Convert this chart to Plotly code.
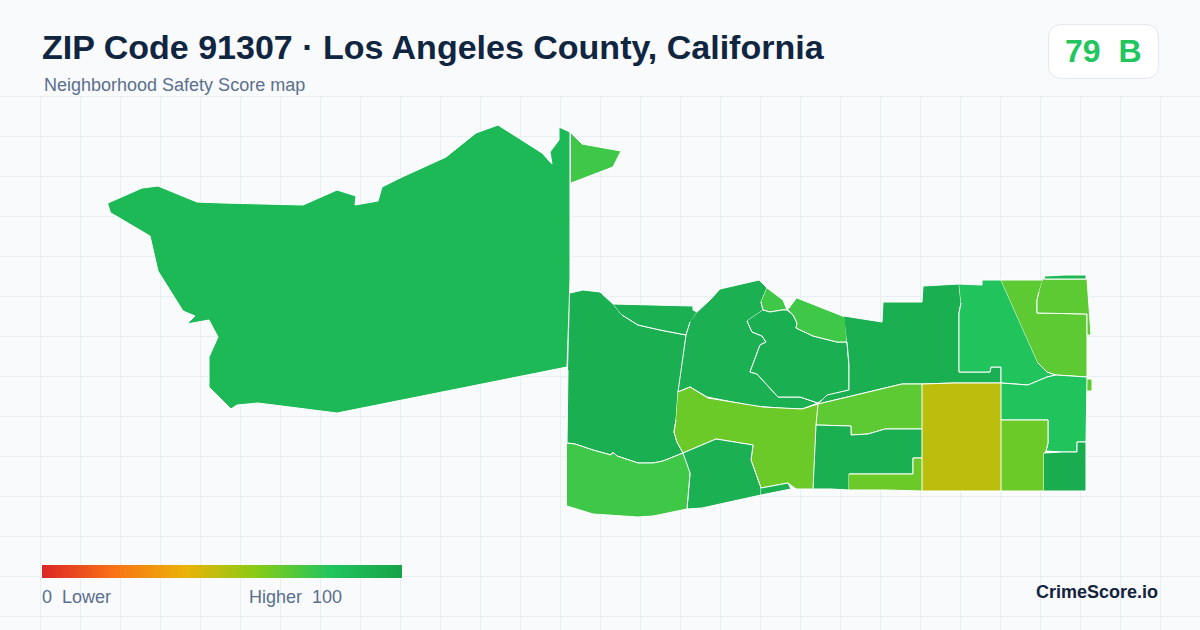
#!/usr/bin/env python3
import numpy as np
import plotly.graph_objects as go
from plotly.colors import sample_colorscale

# score colour ramp, same for the map and the legend bar
score_scale = [
    [0.0, "#dc2626"],
    [0.2, "#f97316"],
    [0.4, "#eab308"],
    [0.6, "#84cc16"],
    [0.8, "#22c55e"],
    [1.0, "#16a34a"],
]

# boundaries
north_west = [(108, 203), (142, 188), (158, 186), (197, 202), (223, 203), (275, 204), (303, 205), (337, 190), (356, 196), (355, 205), (378, 201), (382, 187), (400, 178), (446, 157), (476, 133), (498, 125), (542, 153), (552, 164), (550, 152), (559, 140), (559, 127), (570, 132), (570, 280), (567, 367), (337, 413), (258, 403), (237, 405), (231, 409), (209, 387), (209, 357), (218, 337), (209, 320), (187, 324), (195, 316), (183, 311), (158, 271), (150, 236), (111, 213)]
north_tip = [(571, 133), (582, 144), (621, 151), (613, 167), (571, 183)]
west_block = [(570, 293), (583, 290), (600, 292), (613, 304), (622, 315), (638, 325), (660, 330), (686, 335), (682, 373), (678, 392), (676, 420), (674, 432), (677, 442), (683, 453), (663, 461), (653, 463), (638, 463), (617, 456), (614, 453), (612, 453), (611, 455), (593, 450), (575, 444), (567, 443), (568, 370)]
west_top = [(613, 304), (653, 305), (693, 306), (693, 310), (697, 312), (690, 323), (686, 335), (660, 330), (638, 325), (622, 315)]
hill_west = [(697, 312), (710, 300), (720, 289), (748, 283), (759, 280), (767, 288), (761, 302), (763, 310), (747, 321), (752, 332), (762, 336), (766, 342), (760, 345), (750, 372), (757, 374), (778, 397), (800, 397), (818, 403), (802, 409), (792, 409), (753, 406), (707, 397), (690, 387), (678, 392), (686, 335), (690, 322)]
hill_tip = [(767, 288), (783, 300), (787, 310), (782, 310), (770, 312), (763, 310), (761, 302)]
hill_east = [(763, 310), (770, 312), (782, 310), (787, 310), (793, 315), (797, 323), (796, 328), (813, 336), (837, 342), (847, 342), (849, 367), (849, 390), (827, 396), (818, 403), (800, 397), (778, 397), (757, 374), (750, 372), (760, 345), (766, 342), (762, 336), (752, 332), (747, 321)]
hill_north = [(797, 298), (845, 317), (847, 342), (837, 342), (813, 336), (796, 328), (797, 323), (793, 315), (788, 310)]
center_north = [(844, 316), (882, 322), (883, 302), (922, 302), (923, 286), (959, 284), (961, 303), (959, 313), (959, 372), (990, 372), (991, 367), (1001, 367), (1001, 383), (953, 383), (922, 384), (902, 384), (818, 404), (827, 395), (849, 390), (849, 365), (847, 342)]
east_north = [(959, 284), (982, 285), (982, 280), (1001, 280), (1038, 363), (1047, 372), (1056, 375), (1047, 377), (1028, 385), (1013, 384), (1001, 383), (1001, 367), (991, 367), (990, 372), (959, 372), (959, 313), (961, 303)]
corner_wedge = [(1001, 280), (1043, 280), (1039, 292), (1037, 300), (1037, 313), (1087, 314), (1087, 377), (1056, 375), (1047, 372), (1038, 363)]
corner_box = [(1043, 279), (1087, 279), (1089, 307), (1091, 335), (1087, 335), (1087, 314), (1037, 313), (1037, 300), (1039, 292)]
corner_strip = [(1045, 276), (1065, 275), (1086, 275), (1086, 279), (1045, 279)]
corner_sliver = [(1087, 379), (1092, 379), (1092, 391), (1087, 391)]
east_mid = [(1001, 383), (1013, 384), (1028, 385), (1047, 377), (1056, 375), (1087, 377), (1086, 442), (1077, 442), (1077, 452), (1062, 452), (1046, 451), (1048, 443), (1048, 420), (1001, 420)]
east_south = [(1001, 420), (1048, 420), (1048, 443), (1046, 451), (1044, 453), (1044, 491), (1001, 491)]
east_corner = [(1044, 453), (1062, 452), (1077, 452), (1077, 442), (1086, 442), (1086, 491), (1044, 491)]
center_square = [(922, 384), (953, 383), (1001, 383), (1001, 491), (922, 491)]
center_band = [(818, 404), (902, 384), (922, 384), (922, 429), (885, 429), (868, 434), (851, 435), (851, 426), (816, 425), (817, 405)]
center_low = [(816, 425), (851, 426), (851, 435), (868, 434), (885, 429), (922, 429), (922, 458), (913, 458), (913, 474), (880, 474), (849, 474), (849, 490), (831, 489), (813, 489)]
center_step = [(849, 474), (880, 474), (913, 474), (913, 458), (922, 458), (922, 491), (886, 490), (849, 490)]
mid_lime = [(678, 392), (690, 387), (708, 398), (763, 407), (802, 409), (818, 404), (816, 425), (813, 489), (796, 489), (788, 483), (761, 488), (751, 460), (753, 445), (716, 439), (683, 453), (677, 442), (674, 432), (676, 420)]
south_mid = [(683, 453), (716, 439), (753, 445), (751, 460), (761, 488), (761, 495), (702, 508), (687, 509), (690, 473)]
south_chip = [(761, 488), (788, 483), (791, 489), (761, 495)]
south_west = [(567, 443), (575, 444), (593, 450), (611, 455), (612, 453), (614, 453), (617, 456), (638, 463), (653, 463), (663, 461), (683, 453), (690, 473), (687, 509), (653, 516), (638, 517), (608, 515), (593, 514), (567, 506)]

regions = [north_west, north_tip, west_block, west_top, hill_west, hill_tip, hill_east, hill_north, center_north, east_north, corner_wedge, corner_box, corner_strip, corner_sliver, east_mid, east_south, east_corner, center_square, center_band, center_low, center_step, mid_lime, south_mid, south_chip, south_west]
region_scores = [87, 74, 93, 92, 92, 74, 93, 74, 93, 81, 68, 68, 88, 68, 81, 65, 94, 49, 68, 93, 65, 65, 92, 92, 74]

overall_score = 79
overall_grade = "B"
title_text = "ZIP Code 91307 · Los Angeles County, California"
subtitle_text = "Neighborhood Safety Score map"
legend_low = "0\u00a0\u00a0Lower"
legend_high = "Higher\u00a0\u00a0100"
brand_text = "CrimeScore.io"
legend_scores = np.linspace(0, 100, 360)

FONT = "Liberation Sans, Arial, sans-serif"
BG = "#f8fafc"
GRID = "#e7eff3"
SLATE = "#5b6f8c"

fig = go.Figure()

for pts, score in zip(regions, region_scores):
    fig.add_trace(
        go.Scatter(
            x=[p[0] for p in pts],
            y=[p[1] for p in pts],
            mode="lines",
            fill="toself",
            fillcolor=sample_colorscale(score_scale, score / 100)[0],
            line=dict(color="#ffffff", width=1),
            hoveron="fills",
            text=f"Score {score}",
            hoverinfo="text",
        )
    )

# legend bar
fig.add_trace(
    go.Heatmap(
        z=[legend_scores],
        x0=42.5,
        dx=1,
        y0=571.5,
        dy=13,
        zmin=0,
        zmax=100,
        colorscale=score_scale,
        showscale=False,
        hoverinfo="skip",
    )
)


def label(x, y, text, size, color, anchor="left", bold=False):
    fig.add_annotation(
        x=x,
        y=y,
        text=f"<b>{text}</b>" if bold else text,
        showarrow=False,
        xanchor=anchor,
        yanchor="middle",
        borderpad=0,
        borderwidth=0,
        font=dict(family=FONT, size=size, color=color),
    )


label(42, 47, title_text, 34, "#0f2540", bold=True)
label(44, 85, subtitle_text, 18, SLATE)
label(1102.5, 51, f"{overall_score}\u00a0\u00a0{overall_grade}", 32, "#22c55e", anchor="center", bold=True)
label(42, 597, legend_low, 18, SLATE)
label(249, 597, legend_high, 18, SLATE)
label(1158, 592, brand_text, 18, "#13233c", anchor="right", bold=True)

fig.update_layout(
    width=1200,
    height=630,
    margin=dict(l=0, r=0, t=0, b=0),
    paper_bgcolor=BG,
    plot_bgcolor=BG,
    showlegend=False,
    xaxis=dict(
        range=[0, 1200],
        showgrid=True,
        gridcolor=GRID,
        gridwidth=1,
        tick0=0.5,
        dtick=40,
        zeroline=False,
        showticklabels=False,
        fixedrange=True,
    ),
    yaxis=dict(
        range=[630, 0],
        showgrid=True,
        gridcolor=GRID,
        gridwidth=1,
        tick0=16.5,
        dtick=40,
        zeroline=False,
        showticklabels=False,
        fixedrange=True,
    ),
    shapes=[
        # header sits on plain background, the grid starts under it
        dict(type="rect", layer="between", x0=0, x1=1200, y0=0, y1=96, fillcolor=BG, line_width=0),
        dict(
            type="path",
            layer="between",
            path="M 1062 24.5 H 1145 Q 1158.5 24.5 1158.5 38 V 65 Q 1158.5 78.5 1145 78.5 H 1062 Q 1048.5 78.5 1048.5 65 V 38 Q 1048.5 24.5 1062 24.5 Z",
            fillcolor="#ffffff",
            line=dict(color="#e2e8f0", width=1),
        ),
    ],
)

fig.write_html("out.html", config={"displayModeBar": False}, post_script="document.body.style.margin='0';")
